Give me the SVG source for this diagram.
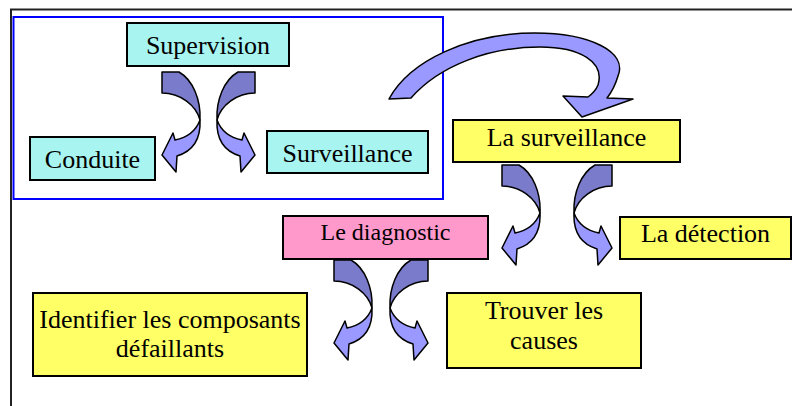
<svg xmlns="http://www.w3.org/2000/svg" xmlns:xlink="http://www.w3.org/1999/xlink" width="792" height="406" viewBox="0 0 792 406">
  <style>
    .box { stroke: #000; stroke-width: 2; }
    .cyan { fill: #a8f4f0; }
    .yellow { fill: #ffff66; }
    .pink { fill: #ff99cc; }
    .lbl { font-family: "Liberation Serif", "Times New Roman", serif; font-size: 26px; fill: #000; text-anchor: middle; }
    .back { fill: #7b7bcc; stroke: #000; stroke-width: 1.5; stroke-linejoin: round; }
    .front { fill: #9999ff; stroke: #000; stroke-width: 1.5; stroke-linejoin: round; }
  </style>
  <defs>
    <!-- twisted ribbon arrow: top band, curls right, points down-left -->
    <g id="bend">
      <path class="back" d="M0,0 L17,0 C31,8 39,28 38,48 C34,33 18,21 0,21 Z"/>
      <path class="front" d="M38,48 C35,56 28,65 13,68 L11,61 L0,83 L14,100 L15,84 C28,80 39,70 38,48 Z"/>
    </g>
  </defs>

  <rect width="792" height="406" fill="#fff"/>

  <!-- page frame -->
  <path d="M11,406 V9.5 H792" fill="none" stroke="#222" stroke-width="2"/>
  <!-- supervision scope frame -->
  <rect x="13.5" y="17" width="429.5" height="182" fill="none" stroke="#0000ff" stroke-width="2"/>

  <g id="connectors">
    <use xlink:href="#bend" transform="translate(162,72)"/>
    <use xlink:href="#bend" transform="translate(255,72) scale(-1,1)"/>
    <use xlink:href="#bend" transform="translate(502,165)"/>
    <use xlink:href="#bend" transform="translate(612,165) scale(-1,1)"/>
    <use xlink:href="#bend" transform="translate(334,260)"/>
    <use xlink:href="#bend" transform="translate(428,260) scale(-1,1)"/>
    <path class="front" d="M389,99 C410,60 470,33 535,33 C590,33 628,52 618,76 C615,86 611,93 607,98 L633,99 L582,117 L563,96 L588,97 C592,94 596,90 598,85 C605,62 580,47 540,47 C490,47 440,65 411,98 Z"/>
  </g>

  <g id="supervision">
    <rect class="box cyan" x="127" y="23" width="162" height="43"/>
    <text class="lbl" x="208" y="54">Supervision</text>
  </g>
  <g id="conduite">
    <rect class="box cyan" x="30" y="137" width="125" height="43"/>
    <text class="lbl" x="92.5" y="168">Conduite</text>
  </g>
  <g id="surveillance">
    <rect class="box cyan" x="267" y="131" width="161" height="42"/>
    <text class="lbl" x="347.5" y="162">Surveillance</text>
  </g>
  <g id="la-surveillance">
    <rect class="box yellow" x="453" y="120" width="227" height="42"/>
    <text class="lbl" x="566.5" y="146">La surveillance</text>
  </g>
  <g id="la-detection">
    <rect class="box yellow" x="620" y="217" width="171" height="42"/>
    <text class="lbl" x="705.5" y="242">La détection</text>
  </g>
  <g id="le-diagnostic">
    <rect class="box pink" x="283" y="216" width="205" height="43"/>
    <text class="lbl" x="385.5" y="240" style="font-size:24px">Le diagnostic</text>
  </g>
  <g id="identifier">
    <rect class="box yellow" x="33" y="293" width="274" height="83"/>
    <text class="lbl" x="170" y="328">Identifier les composants</text>
    <text class="lbl" x="170" y="357">défaillants</text>
  </g>
  <g id="trouver">
    <rect class="box yellow" x="447" y="293" width="194" height="75"/>
    <text class="lbl" x="544" y="319">Trouver les</text>
    <text class="lbl" x="544" y="349">causes</text>
  </g>
</svg>
